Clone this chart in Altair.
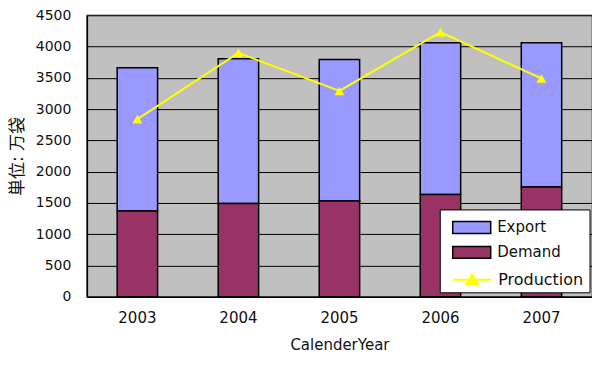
import altair as alt
import pandas as pd

years = ["2003", "2004", "2005", "2006", "2007"]
demand = [1370, 1490, 1530, 1635, 1755]
export = [2290, 2315, 2265, 2425, 2305]
production = [2840, 3900, 3290, 4230, 3490]
y_ticks = [0, 500, 1000, 1500, 2000, 2500, 3000, 3500, 4000, 4500]

bars_df = pd.DataFrame({
    "year": years * 2,
    "series": ["Export"] * len(years) + ["Demand"] * len(years),
    "value": export + demand,
    "order": [2] * len(years) + [1] * len(years),
})
line_df = pd.DataFrame({"year": years, "series": ["Production"] * len(years), "value": production})

FONT = "DejaVu Sans, Noto Sans CJK JP"

x_enc = alt.X(
    "year:N",
    title="CalenderYear",
    scale=alt.Scale(paddingInner=0.6, paddingOuter=0.3),
    axis=alt.Axis(labelAngle=0, ticks=False, labelPadding=14, titlePadding=12,
                  domainColor="black", domainWidth=1.5, grid=False,
                  labelFontSize=15),
)


def y_enc():
    return alt.Y(
        "value:Q",
        stack="zero",
        title="単位: 万袋",
        scale=alt.Scale(domain=[0, 4500], nice=False),
        axis=alt.Axis(values=y_ticks, format="d", labelOverlap=False, ticks=False,
                      labelPadding=16, titlePadding=9, labelFontSize=14,
                      domainColor="black", domainWidth=1.5, grid=True,
                      gridColor="black", gridWidth=1, titleFontSize=17),
    )


bars = alt.Chart(bars_df).mark_bar(stroke="black", strokeWidth=1.5).encode(
    x=x_enc,
    y=y_enc(),
    color=alt.Color(
        "series:N",
        scale=alt.Scale(domain=["Export", "Demand"], range=["#9999FF", "#993366"]),
        legend=alt.Legend(title=None, orient="none", legendX=378, legendY=205,
                          symbolType="M-3.17,-1H3.17V1H-3.17Z", symbolSize=144,
                          symbolStrokeColor="black", symbolStrokeWidth=1.5,
                          labelOffset=18, rowPadding=6, labelFontSize=15,
                          labelFont=FONT, labelColor="#111", padding=0),
    ),
    order=alt.Order("order:Q", sort="ascending"),
)

line = alt.Chart(line_df).mark_line(strokeWidth=2).encode(
    x=x_enc,
    y=y_enc(),
    stroke=alt.Stroke(
        "series:N",
        scale=alt.Scale(domain=["Production"], range=["#FFFF00"]),
        legend=alt.Legend(title=None, orient="none", legendX=378, legendY=257,
                          symbolType="M-3.17,0H3.17M-1,0.75L0,-0.95L1,0.75Z",
                          symbolSize=144, symbolFillColor="#FFFF00",
                          symbolStrokeWidth=2, labelOffset=18, labelFontSize=16,
                          labelFont=FONT, labelColor="#111", padding=0),
    ),
)

points = alt.Chart(line_df).mark_point(shape="triangle-up", filled=True, size=100,
                                       color="#FFFF00", opacity=1).encode(
    x=x_enc,
    y=y_enc(),
)

frame = alt.Chart(pd.DataFrame({"k": [0]})).mark_rect(
    fill="white", stroke="black", strokeWidth=1
).encode(
    x=alt.value(354), x2=alt.value(504), y=alt.value(195), y2=alt.value(278)
)

chart = alt.layer(bars, line, points, frame).resolve_scale(
    color="independent"
).properties(
    width=506,
    height=282,
    autosize=alt.AutoSizeParams(type="none"),
    padding={"left": 79, "top": 7, "right": 0, "bottom": 60},
    background="white",
).configure_view(
    fill="#C0C0C0", stroke="#808080", strokeWidth=1.5
).configure_axis(
    labelFont=FONT, titleFont=FONT, labelFontSize=15, titleFontSize=15,
    labelColor="#111", titleColor="#111", titleFontWeight="normal",
)

chart.save("out.html", embed_options={"renderer": "svg", "actions": False})
